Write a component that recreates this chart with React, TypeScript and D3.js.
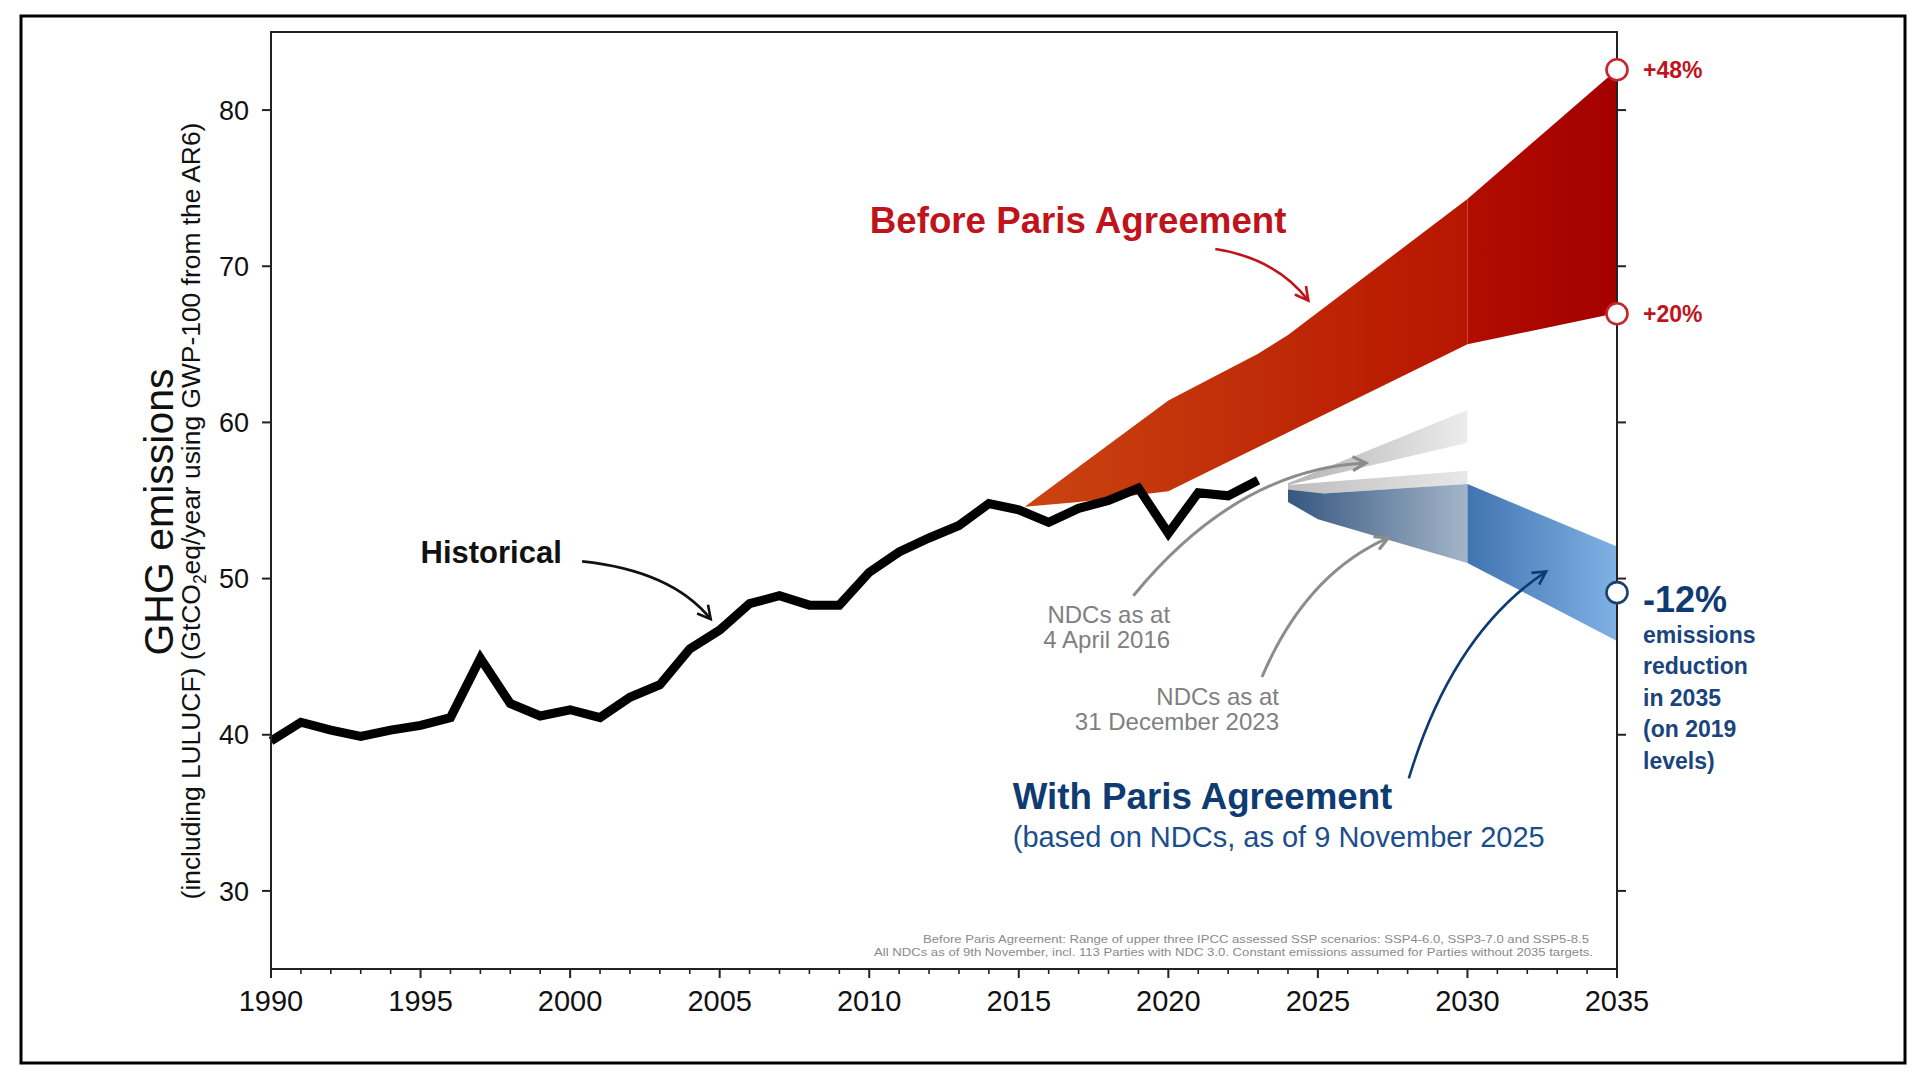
import React from 'react';
import * as d3 from 'd3';

// Historical GHG emissions (GtCO2eq/yr incl. LULUCF)
const histYears = [1990, 1991, 1992, 1993, 1994, 1995, 1996, 1997, 1998, 1999, 2000, 2001, 2002, 2003, 2004, 2005, 2006, 2007, 2008, 2009, 2010, 2011, 2012, 2013, 2014, 2015, 2016, 2017, 2018, 2019, 2020, 2021, 2022, 2023];
const histValues = [39.6, 40.8, 40.3, 39.9, 40.3, 40.6, 41.1, 44.9, 42.0, 41.2, 41.6, 41.1, 42.4, 43.2, 45.5, 46.7, 48.4, 48.9, 48.3, 48.3, 50.4, 51.7, 52.6, 53.4, 54.8, 54.4, 53.6, 54.5, 55.0, 55.8, 52.9, 55.5, 55.3, 56.3];

// Before Paris Agreement range (upper three SSP scenarios)
const redUpperYears = [2015.2, 2020, 2023, 2024, 2030, 2035];
const redUpperValues = [54.6, 61.4, 64.4, 65.6, 74.3, 82.6];
const redLowerYears = [2015.2, 2017, 2020, 2030, 2035];
const redLowerValues = [54.6, 54.9, 55.6, 65.0, 67.0];

// NDCs as at 4 April 2016
const ndc2016UpperYears = [2024, 2030];
const ndc2016UpperValues = [56.1, 60.8];
const ndc2016LowerYears = [2024, 2030];
const ndc2016LowerValues = [56.0, 58.7];

// NDCs as at 31 December 2023
const ndc2023UpperYears = [2024, 2030];
const ndc2023UpperValues = [56.0, 56.9];

// With Paris Agreement (NDCs as of 9 November 2025)
const blueUpperYears = [2024, 2025.2, 2030, 2035];
const blueUpperValues = [55.7, 55.45, 56.05, 52.05];
const blueLowerYears = [2024, 2025, 2030, 2035];
const blueLowerValues = [54.9, 53.8, 51.0, 46.0];

// 2035 change relative to 2019 levels
const changeLabels = ['+48%', '+20%', '-12%'];
const changeFractions = [0.48, 0.2, -0.12];

const yTicks = [30, 40, 50, 60, 70, 80];
const xMajorTicks = [1990, 1995, 2000, 2005, 2010, 2015, 2020, 2025, 2030, 2035];
const xMinorTicks = [1991, 1992, 1993, 1994, 1996, 1997, 1998, 1999, 2001, 2002, 2003, 2004, 2006, 2007, 2008, 2009, 2011, 2012, 2013, 2014, 2016, 2017, 2018, 2019, 2021, 2022, 2023, 2024, 2026, 2027, 2028, 2029, 2031, 2032, 2033, 2034];

const FONT = '"Liberation Sans", Arial, Helvetica, sans-serif';
const RED = '#c0141c';
const NAVY = '#0f3b73';
const GRAY_TXT = '#808080';

type Pt = [number, number];

const zip = (xs: number[], vs: number[]): Pt[] => xs.map((v, i) => [v, vs[i]] as Pt);

export default function App() {
  const x = d3.scaleLinear().domain([1990, 2035]).range([271, 1617]);
  const y = d3.scaleLinear().domain([25, 85]).range([969, 32]);

  const line = d3
    .line<Pt>()
    .x((d) => x(d[0]))
    .y((d) => y(d[1]));

  const within = (pts: Pt[], a: number, b: number) => pts.filter((p) => p[0] >= a && p[0] <= b);
  const bandPath = (upper: Pt[], lower: Pt[], a: number, b: number) =>
    line([...within(upper, a, b), ...within(lower, a, b).reverse()]) + 'Z';

  const redUpper = zip(redUpperYears, redUpperValues);
  const redLower = zip(redLowerYears, redLowerValues);
  const blueUpper = zip(blueUpperYears, blueUpperValues);
  const blueLower = zip(blueLowerYears, blueLowerValues);
  const g16Upper = zip(ndc2016UpperYears, ndc2016UpperValues);
  const g16Lower = zip(ndc2016LowerYears, ndc2016LowerValues);
  const g23Upper = zip(ndc2023UpperYears, ndc2023UpperValues);

  const hist = zip(histYears, histValues);
  const base2019 = histValues[histYears.indexOf(2019)];
  const changeValues = changeFractions.map((f) => base2019 * (1 + f));

  const arrow = (p0: Pt, c: Pt, p1: Pt) =>
    `M${x(p0[0])},${y(p0[1])} Q${x(c[0])},${y(c[1])} ${x(p1[0])},${y(p1[1])}`;

  const marker = (id: string, color: string, sw: number) => (
    <marker
      id={id}
      markerUnits="userSpaceOnUse"
      viewBox="0 0 20 20"
      markerWidth={20}
      markerHeight={20}
      refX={17}
      refY={10}
      orient="auto"
    >
      <path d="M4,3 L17,10 L4,17" fill="none" stroke={color} strokeWidth={sw} strokeLinejoin="miter" />
    </marker>
  );

  const x2035 = x(2035);
  const labelX = x2035 + 26;
  const lineGap = 31.5;

  return (
    <svg
      width={1920}
      height={1080}
      style={{ position: 'absolute', left: 0, top: 0, display: 'block', background: '#fff' }}
      fontFamily={FONT}
    >
      <defs>
        <linearGradient id="redLeft" gradientUnits="userSpaceOnUse" x1={x(2015)} x2={x(2030)} y1={0} y2={0}>
          <stop offset="0%" stopColor="#ca4510" />
          <stop offset="100%" stopColor="#b71500" />
        </linearGradient>
        <linearGradient id="redRight" gradientUnits="userSpaceOnUse" x1={x(2030)} x2={x(2035)} y1={0} y2={0}>
          <stop offset="0%" stopColor="#b20d00" />
          <stop offset="100%" stopColor="#a30000" />
        </linearGradient>
        <linearGradient id="blueLeft" gradientUnits="userSpaceOnUse" x1={x(2024)} x2={x(2030)} y1={0} y2={0}>
          <stop offset="0%" stopColor="#365780" />
          <stop offset="100%" stopColor="#a3b5c8" />
        </linearGradient>
        <linearGradient id="blueRight" gradientUnits="userSpaceOnUse" x1={x(2030)} x2={x(2035)} y1={0} y2={0}>
          <stop offset="0%" stopColor="#4174b0" />
          <stop offset="100%" stopColor="#80b1e5" />
        </linearGradient>
        <linearGradient id="gray16" gradientUnits="userSpaceOnUse" x1={x(2024)} x2={x(2030)} y1={0} y2={0}>
          <stop offset="0%" stopColor="#b4b4b4" />
          <stop offset="100%" stopColor="#ececec" />
        </linearGradient>
        <linearGradient id="gray23" gradientUnits="userSpaceOnUse" x1={x(2024)} x2={x(2030)} y1={0} y2={0}>
          <stop offset="0%" stopColor="#bdbdbd" />
          <stop offset="100%" stopColor="#e8e8e8" />
        </linearGradient>
        {marker('mBlack', '#111', 2.6)}
        {marker('mRed', RED, 2.6)}
        {marker('mNavy', NAVY, 2.6)}
        {marker('mGray', '#8c8c8c', 3.2)}
      </defs>

      {/* outer frame */}
      <rect x={21} y={16} width={1884} height={1047} fill="none" stroke="#000" strokeWidth={3} />

      {/* scenario bands */}
      <path d={bandPath(redUpper, redLower, 2015, 2030)} fill="url(#redLeft)" />
      <path d={bandPath(redUpper, redLower, 2030, 2035)} fill="url(#redRight)" />
      <path d={bandPath(g16Upper, g16Lower, 2024, 2030)} fill="url(#gray16)" />
      <path d={bandPath(g23Upper, blueUpper, 2024, 2030)} fill="url(#gray23)" />
      <path d={bandPath(blueUpper, blueLower, 2024, 2030)} fill="url(#blueLeft)" />
      <path d={bandPath(blueUpper, blueLower, 2030, 2035)} fill="url(#blueRight)" />

      {/* historical emissions */}
      <path d={line(hist) || ''} fill="none" stroke="#000" strokeWidth={9} strokeLinejoin="miter" strokeLinecap="butt" />

      {/* plot frame and axes */}
      <rect x={x(1990)} y={y(85)} width={x(2035) - x(1990)} height={y(25) - y(85)} fill="none" stroke="#222" strokeWidth={2} />
      {yTicks.map((t) => (
        <g key={'yt' + t}>
          <line x1={x(1990) - 9} x2={x(1990)} y1={y(t)} y2={y(t)} stroke="#222" strokeWidth={2} />
          <line x1={x2035} x2={x2035 + 9} y1={y(t)} y2={y(t)} stroke="#222" strokeWidth={2} />
          <text x={249} y={y(t)} dy="0.36em" textAnchor="end" fontSize={27} fill="#111">
            {t}
          </text>
        </g>
      ))}
      {xMajorTicks.map((t) => (
        <g key={'xt' + t}>
          <line x1={x(t)} x2={x(t)} y1={y(25)} y2={y(25) + 9} stroke="#222" strokeWidth={2} />
          <text x={x(t)} y={1011} textAnchor="middle" fontSize={29} fill="#111">
            {t}
          </text>
        </g>
      ))}
      {xMinorTicks.map((t) => (
        <line key={'xm' + t} x1={x(t)} x2={x(t)} y1={y(25)} y2={y(25) + 5} stroke="#222" strokeWidth={1.6} />
      ))}

      {/* axis title */}
      <text transform={`translate(173,512) rotate(-90)`} textAnchor="middle" fontSize={41} fill="#111">
        GHG emissions
      </text>
      <text transform={`translate(200,511) rotate(-90)`} textAnchor="middle" fontSize={26.4} fill="#111">
        (including LULUCF) (GtCO
        <tspan fontSize={17.5} dy={5.5}>
          2
        </tspan>
        <tspan dy={-5.5}>eq/year using GWP-100 from the AR6)</tspan>
      </text>

      {/* 2035 markers */}
      {changeValues.map((v, i) => (
        <circle
          key={'c' + i}
          cx={x2035}
          cy={y(v)}
          r={10.5}
          fill="#fff"
          stroke={i < 2 ? '#c8242c' : '#1b3f6e'}
          strokeWidth={2.6}
        />
      ))}
      <text x={labelX} y={y(changeValues[0])} dy="0.36em" fontSize={23} fontWeight="bold" fill={RED}>
        {changeLabels[0]}
      </text>
      <text x={labelX} y={y(changeValues[1])} dy="0.36em" fontSize={23} fontWeight="bold" fill={RED}>
        {changeLabels[1]}
      </text>
      <text x={labelX} y={y(changeValues[2]) + 19} fontSize={36} fontWeight="bold" fill={NAVY}>
        {changeLabels[2]}
      </text>
      {['emissions', 'reduction', 'in 2035', '(on 2019', 'levels)'].map((s, i) => (
        <text key={s} x={labelX} y={y(changeValues[2]) + 50 + i * lineGap} fontSize={23} fontWeight="bold" fill="#1a457c">
          {s}
        </text>
      ))}

      {/* annotations */}
      <text x={x(2010.02)} y={y(72.16)} fontSize={36.7} fontWeight="bold" fill={RED}>
        Before Paris Agreement
      </text>
      <path d={arrow([2021.57, 71.1], [2023.6, 70.5], [2024.68, 67.8])} fill="none" stroke={RED} strokeWidth={2.6} markerEnd="url(#mRed)" />

      <text x={x(1995.0)} y={y(51.0)} fontSize={31} fontWeight="bold" fill="#111">
        Historical
      </text>
      <path d={arrow([2000.4, 51.1], [2003.4, 50.5], [2004.7, 47.4])} fill="none" stroke="#111" strokeWidth={2.6} markerEnd="url(#mBlack)" />

      <text x={x(2020.06)} y={623} textAnchor="end" fontSize={24} fill={GRAY_TXT}>
        NDCs as at
      </text>
      <text x={x(2020.06)} y={648} textAnchor="end" fontSize={24} fill={GRAY_TXT}>
        4 April 2016
      </text>
      <path d={arrow([2018.83, 48.9], [2022.3, 57.0], [2026.6, 57.4])} fill="none" stroke="#8c8c8c" strokeWidth={3} markerEnd="url(#mGray)" />

      <text x={x(2023.7)} y={705} textAnchor="end" fontSize={24} fill={GRAY_TXT}>
        NDCs as at
      </text>
      <text x={x(2023.7)} y={730} textAnchor="end" fontSize={24} fill={GRAY_TXT}>
        31 December 2023
      </text>
      <path d={arrow([2023.13, 43.7], [2024.6, 50.3], [2027.35, 52.6])} fill="none" stroke="#8c8c8c" strokeWidth={3} markerEnd="url(#mGray)" />

      <text x={x(2014.8)} y={y(35.25)} fontSize={36.7} fontWeight="bold" fill={NAVY}>
        With Paris Agreement
      </text>
      <text x={x(2014.8)} y={y(32.8)} fontSize={29} fill="#1a4e8c">
        (based on NDCs, as of 9 November 2025
      </text>
      <path d={arrow([2028.04, 37.2], [2029.5, 46.5], [2032.63, 50.45])} fill="none" stroke={NAVY} strokeWidth={2.6} markerEnd="url(#mNavy)" />

      {/* footnote */}
      <text x={1589} y={943} textAnchor="end" fontSize={11} fill="#8a8a8a" textLength={666} lengthAdjust="spacingAndGlyphs">
        Before Paris Agreement: Range of upper three IPCC assessed SSP scenarios: SSP4-6.0, SSP3-7.0 and SSP5-8.5
      </text>
      <text x={1593} y={956} textAnchor="end" fontSize={11} fill="#8a8a8a" textLength={719} lengthAdjust="spacingAndGlyphs">
        All NDCs as of 9th November, incl. 113 Parties with NDC 3.0. Constant emissions assumed for Parties without 2035 targets.
      </text>
    </svg>
  );
}
